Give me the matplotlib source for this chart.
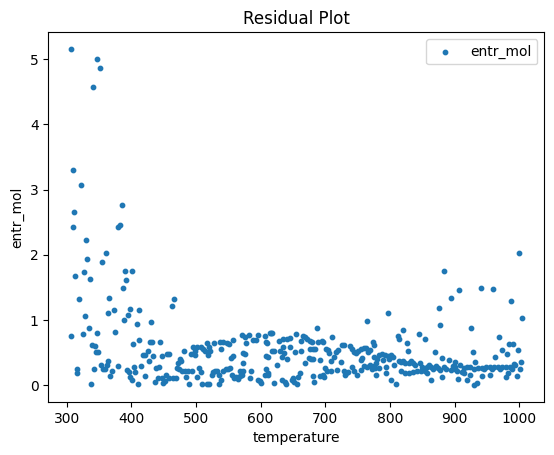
import matplotlib
matplotlib.use("Agg")
import matplotlib.pyplot as plt

# residual points
temperature = [
    306.7, 347, 351.5, 340.7, 309.8, 322, 311, 385.5, 309.8, 379, 382, 330, 360.7, 331.4,
    354.6, 390, 401, 312.8, 326.7, 336, 391.6, 387,
    319, 365.4, 328, 364, 373, 398, 411.7, 394.7, 388.6, 408.7, 430, 334.5, 325, 306.6,
    347, 374.6, 339, 344, 345, 348, 402.5, 411.7, 428.7, 431.8, 444, 425.7, 418, 421,
    433, 447, 427, 353, 356, 359, 362, 364, 342, 316, 316, 370, 379, 367, 393, 396, 404,
    405.6, 398, 401, 415, 421, 410, 337.6, 438, 442.6, 436.5, 441, 447, 449,
    465.8, 462.7, 458, 455, 481, 475, 476.7, 472, 470.5, 473.5, 478, 483, 487.5, 493.7,
    484, 489, 454, 458.5, 464.6, 469, 452,
    495, 498, 501, 507.5, 510.6, 513.7, 517, 520, 521.5, 518, 492, 498, 527.7, 537,
    541.6, 547.8, 551, 557, 538.5, 504.5, 507.5, 501, 509, 516.8, 520, 524.6, 526, 529,
    535, 532, 538.5, 535, 541.6, 546, 549, 552, 554, 557, 555.5, 558.6, 561.7, 564.8,
    567.9, 571, 568, 572.5, 571, 575.6, 581.8, 588, 592.6, 595.7, 606.5, 614, 577,
    572.5, 575.6, 572.5, 584.8, 583.3, 595.7, 598.8, 600.3, 608, 609.6, 608, 608, 606.5, 611,
    615.8, 617.4, 628, 634.3, 640.5, 645, 654.4, 665, 668.3, 671.4, 676, 679, 686.8,
    688.4, 694.6, 696, 710, 662, 634.3, 645, 620, 617.4, 629.8, 636, 653, 662, 683.8,
    676, 680.6, 700.8, 704, 705, 611, 632.8, 640.5, 625, 674.5, 677.6, 680.6, 668.3,
    691.5, 708.5, 713, 716.2, 719.3, 725.5, 728.6, 724, 738, 741, 744, 747, 750, 755,
    760, 763, 766, 769, 773.4, 775, 764, 699, 702, 708.5, 696, 691.5, 697.7, 680.6, 682,
    660.6, 657.5, 649.8, 648, 656, 651.3, 632.8, 637.4, 639, 620.4, 611, 717.8, 728.6,
    731.7, 730, 734.8, 741, 744, 748.7, 755.5, 759.5, 764.2, 771.9, 775, 756.4, 755,
    768.8, 775,
    796.6, 894, 875.4, 877, 906.3, 819.8, 812, 813.6, 844.5, 853.8, 826, 827.5, 869, 880,
    891, 900, 782.7, 787.3, 792, 796.6, 801.2, 804.3, 779.6, 788.9, 798, 778, 776.4,
    782.7, 793.5, 793.5, 778, 805.9, 813.6, 816.7, 819.8, 822.9, 829, 832.2, 835.2,
    838.3, 846, 849.2, 852.3, 857, 860, 863, 866, 816.7, 822.9, 829, 835.2, 841.4,
    847.5, 853.8, 857, 801.2, 809, 863, 870.8, 874, 877, 880, 883, 886, 894, 897, 900,
    904.6, 883,
    999, 940.3, 959, 986.7, 1003.7, 924.7, 968, 972.8, 980.5, 983.6, 989.8, 997.5, 962,
    928, 931, 1002, 1001, 908, 914, 919, 923.6, 929.8, 936, 942, 948, 954.5, 960.5,
    966.7, 973, 979, 985, 991.2, 918.7, 923.3, 929.5, 934.2, 941.9, 954.2, 979, 982,
    996, 911, 914, 901, 904, 945, 957, 970, 988, 994,
]
entr_mol = [
    5.16, 5.01, 4.87, 4.58, 3.30, 3.07, 2.66, 2.77, 2.43, 2.43, 2.46, 2.23, 2.03, 1.93,
    1.89, 1.75, 1.75, 1.67, 1.73, 1.63, 1.61, 1.49,
    1.32, 1.34, 1.06, 1.10, 1.15, 1.16, 1.15, 1.07, 1.00, 0.93, 0.96, 0.87, 0.78, 0.75,
    0.80, 0.81, 0.61, 0.60, 0.50, 0.50, 0.63, 0.69, 0.66, 0.66, 0.66, 0.52, 0.46, 0.46,
    0.44, 0.44, 0.36, 0.30, 0.25, 0.25, 0.30, 0.36, 0.24, 0.24, 0.18, 0.22, 0.29, 0.13, 0.23, 0.20, 0.28,
    0.20, 0.12, 0.07, 0.29, 0.13, 0.01, 0.01, 0.26, 0.27, 0.04, 0.10, 0.10, 0.03,
    1.32, 1.21, 0.47, 0.47, 0.52, 0.40, 0.36, 0.33, 0.26, 0.24, 0.22, 0.22, 0.22, 0.22,
    0.12, 0.01, 0.15, 0.10, 0.10, 0.10, 0.06,
    0.58, 0.52, 0.58, 0.58, 0.55, 0.52, 0.64, 0.58, 0.52, 0.46, 0.47, 0.46, 0.64, 0.66,
    0.66, 0.64, 0.63, 0.69, 0.55, 0.26, 0.20, 0.12, 0.01, 0.01, 0.01, 0.16, 0.20, 0.21,
    0.15, 0.21, 0.07, 0.01, 0.22, 0.24, 0.24, 0.26, 0.41, 0.44, 0.15, 0.10, 0.12, 0.09,
    0.14, 0.15, 0.21, 0.22, 0.76, 0.73, 0.76, 0.69, 0.69, 0.77, 0.75, 0.80, 0.64,
    0.49, 0.47, 0.33, 0.21, 0.10, 0.07, 0.06, 0.03, 0.66, 0.64, 0.44, 0.24, 0.16, 0.15,
    0.80, 0.80, 0.67, 0.70, 0.70, 0.72, 0.78, 0.75, 0.73, 0.70, 0.67, 0.66, 0.87,
    0.66, 0.67, 0.66, 0.73, 0.67, 0.58, 0.58, 0.52, 0.52, 0.52, 0.49, 0.50, 0.52, 0.55,
    0.55, 0.55, 0.55, 0.53, 0.49, 0.43, 0.43, 0.40, 0.30, 0.41, 0.40, 0.40, 0.33,
    0.38, 0.36, 0.43, 0.50, 0.53, 0.61, 0.61, 0.35, 0.60, 0.55, 0.50, 0.49, 0.52, 0.55,
    0.57, 0.57, 0.50, 0.53, 0.66, 0.61, 0.98, 0.26, 0.21, 0.22, 0.16, 0.13, 0.12, 0.13, 0.04,
    0.18, 0.12, 0.10, 0.07, 0.01, 0.04, 0.07, 0.04, 0.01, 0.03, 0.18, 0.23, 0.21,
    0.18, 0.15, 0.20, 0.27, 0.21, 0.16, 0.23, 0.29, 0.27, 0.24, 0.29, 0.42, 0.38,
    0.30, 0.43,
    1.10, 1.34, 1.18, 0.92, 1.46, 0.84, 0.75, 0.70, 0.78, 0.70, 0.64, 0.52, 0.50, 0.41,
    0.38, 0.35, 0.46, 0.47, 0.46, 0.44, 0.46, 0.43, 0.40, 0.38, 0.40, 0.33, 0.26,
    0.26, 0.27, 0.18, 0.16, 0.30, 0.36, 0.35, 0.36, 0.33, 0.33, 0.36, 0.33,
    0.30, 0.33, 0.27, 0.24, 0.27, 0.30, 0.27, 0.24, 0.21, 0.18, 0.18, 0.20, 0.21,
    0.21, 0.21, 0.18, 0.07, 0.01, 0.07, 0.29, 0.26, 0.23, 0.12, 0.27, 0.24, 0.23, 0.29, 0.27,
    0.09, 1.75,
    2.03, 1.49, 1.47, 1.29, 1.03, 0.87, 0.73, 0.53, 0.47, 0.63, 0.63, 0.53, 0.43,
    0.50, 0.35, 0.35, 0.24, 0.30, 0.26, 0.27, 0.28, 0.24, 0.26, 0.26, 0.27, 0.27, 0.27,
    0.27, 0.28, 0.28, 0.27, 0.32, 0.07, 0.16, 0.00, 0.03, 0.13, 0.15, 0.12, 0.18,
    0.13, 0.20, 0.18, 0.24, 0.22, 0.24, 0.25, 0.25, 0.25, 0.30,
]

fig, ax = plt.subplots(figsize=(6.4, 4.8))
ax.scatter(temperature, entr_mol, s=10, label="entr_mol")
ax.set_title("Residual Plot")
ax.set_xlabel("temperature")
ax.set_ylabel("entr_mol")
ax.legend()
plt.savefig("out.png", dpi=100, bbox_inches="tight")
